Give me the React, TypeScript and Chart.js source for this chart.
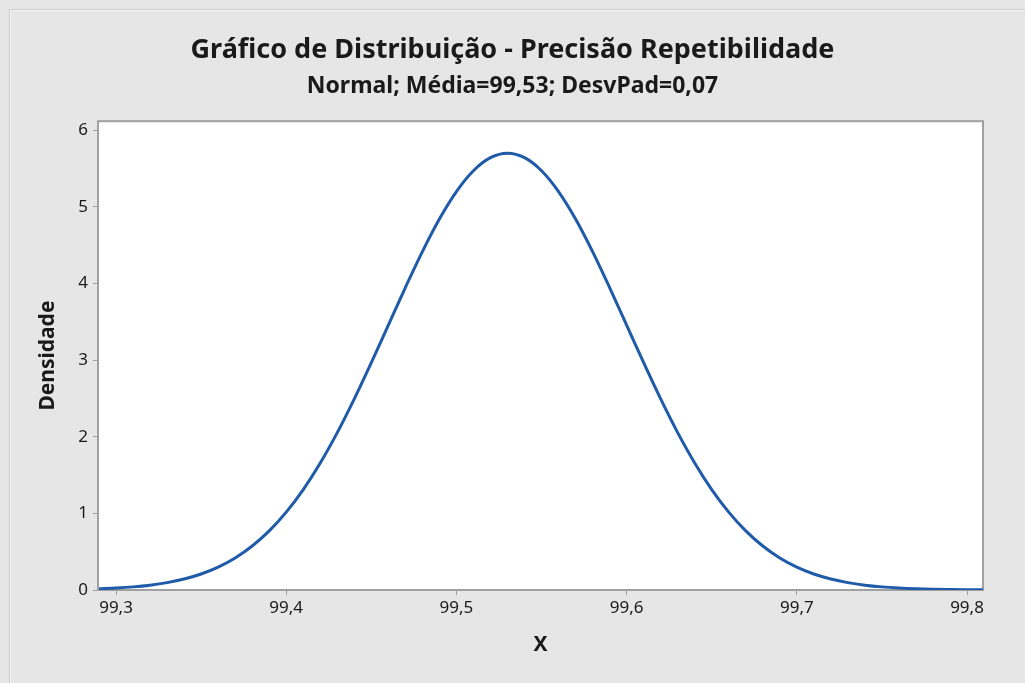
import React, { useEffect, useRef } from "react";
import { Chart, registerables } from "chart.js";

Chart.register(...registerables);

const titleText = "Gráfico de Distribuição - Precisão Repetibilidade";
const subtitleText = "Normal; Média=99,53; DesvPad=0,07";
const xAxisLabel = "X";
const yAxisLabel = "Densidade";

const xValues = [
  99.29, 99.3, 99.31, 99.32, 99.33, 99.34, 99.35, 99.36, 99.37, 99.38, 99.39,
  99.4, 99.41, 99.42, 99.43, 99.44, 99.45, 99.46, 99.47, 99.48, 99.49, 99.5,
  99.51, 99.52, 99.53, 99.54, 99.55, 99.56, 99.57, 99.58, 99.59, 99.6, 99.61,
  99.62, 99.63, 99.64, 99.65, 99.66, 99.67, 99.68, 99.69, 99.7, 99.71, 99.72,
  99.73, 99.74, 99.75, 99.76, 99.77, 99.78, 99.79, 99.8, 99.81,
];

const densityValues = [
  0.016, 0.0258, 0.0408, 0.0633, 0.0962, 0.1432, 0.2089, 0.2986, 0.4182,
  0.5737, 0.7713, 1.016, 1.311, 1.658, 2.054, 2.494, 2.966, 3.457, 3.947,
  4.416, 4.841, 5.199, 5.471, 5.641, 5.699, 5.641, 5.471, 5.199, 4.841, 4.416,
  3.947, 3.457, 2.966, 2.494, 2.054, 1.658, 1.311, 1.016, 0.7713, 0.5737,
  0.4182, 0.2986, 0.2089, 0.1432, 0.0962, 0.0633, 0.0408, 0.0258, 0.016,
  0.0097, 0.0058, 0.0033, 0.0019,
];

const xTicks = [99.3, 99.4, 99.5, 99.6, 99.7, 99.8];
const yTicks = [0, 1, 2, 3, 4, 5, 6];

const FONT = "'Noto Sans', 'Open Sans', sans-serif";
const TEXT = "#1a1a1a";
const FRAME = "#a0a0a0";

export default function App() {
  const ref = useRef<HTMLCanvasElement | null>(null);

  useEffect(() => {
    document.body.style.margin = "0";
    const canvas = ref.current;
    if (!canvas) return;

    const bgPlugin = {
      id: "bgPlugin",
      beforeDraw(chart: any) {
        const { ctx, width, height, chartArea } = chart;
        ctx.save();
        ctx.fillStyle = "#e6e6e6";
        ctx.fillRect(0, 0, width, height);
        ctx.strokeStyle = "#cdcdcd";
        ctx.lineWidth = 1;
        ctx.strokeRect(9.5, 9.5, width + 20, height + 20);
        ctx.strokeStyle = "#f4f4f4";
        ctx.strokeRect(10.5, 10.5, width + 20, height + 20);
        ctx.fillStyle = "#ffffff";
        ctx.fillRect(
          chartArea.left,
          chartArea.top,
          chartArea.right - chartArea.left,
          chartArea.bottom - chartArea.top
        );
        ctx.restore();
      },
      beforeDatasetsDraw(chart: any) {
        const { ctx, chartArea } = chart;
        ctx.save();
        ctx.strokeStyle = FRAME;
        ctx.lineWidth = 2;
        ctx.strokeRect(
          chartArea.left,
          chartArea.top,
          chartArea.right - chartArea.left,
          chartArea.bottom - chartArea.top
        );
        ctx.restore();
      },
    };

    const chart = new Chart(canvas, {
      type: "line",
      data: {
        datasets: [
          {
            data: xValues.map((x, i) => ({ x, y: densityValues[i] })),
            borderColor: "#1f5ba8",
            borderWidth: 3,
            pointRadius: 0,
            tension: 0.4,
            cubicInterpolationMode: "monotone",
            fill: false,
            yAxisID: "y",
          },
        ],
      },
      options: {
        animation: false,
        responsive: false,
        devicePixelRatio: 1,
        layout: { padding: { left: 0, right: 0, top: 0, bottom: 0 } },
        plugins: {
          legend: { display: false },
          tooltip: { enabled: false },
          title: {
            display: true,
            text: titleText,
            color: TEXT,
            font: { family: FONT, size: 27, weight: "bold", lineHeight: 1.2 },
            padding: { top: 34, bottom: 0 },
          },
          subtitle: {
            display: true,
            text: subtitleText,
            color: TEXT,
            font: { family: FONT, size: 23, weight: "bold", lineHeight: 1.2 },
            padding: { top: 6, bottom: 21.2 },
          },
        },
        scales: {
          x: {
            type: "linear",
            min: 99.2894,
            max: 99.8094,
            afterBuildTicks(scale: any) {
              scale.ticks = xTicks.map((v) => ({ value: v }));
            },
            afterFit(scale: any) {
              scale.height = 93;
            },
            ticks: {
              color: TEXT,
              font: { family: FONT, size: 17 },
              padding: 3,
              maxRotation: 0,
              autoSkip: false,
              callback: (v: any) => Number(v).toFixed(1).replace(".", ","),
            },
            grid: {
              display: true,
              drawOnChartArea: false,
              drawTicks: true,
              tickLength: 5,
              color: FRAME,
              lineWidth: 1,
            },
            border: { display: false },
            title: {
              display: true,
              text: xAxisLabel,
              color: TEXT,
              font: { family: FONT, size: 21, weight: "bold", lineHeight: 1.2 },
              padding: { top: 25, bottom: 25 },
            },
          },
          y: {
            type: "linear",
            position: "left",
            min: 0,
            max: 6.117,
            afterBuildTicks(scale: any) {
              scale.ticks = yTicks.map((v) => ({ value: v }));
            },
            afterFit(scale: any) {
              scale.width = 98;
            },
            ticks: {
              color: TEXT,
              font: { family: FONT, size: 17 },
              padding: 5,
              autoSkip: false,
              callback: (v: any) => String(v),
            },
            grid: {
              display: true,
              drawOnChartArea: false,
              drawTicks: true,
              tickLength: 5,
              color: FRAME,
              lineWidth: 1,
            },
            border: { display: false },
            title: {
              display: true,
              text: yAxisLabel,
              color: TEXT,
              font: { family: FONT, size: 21, weight: "bold", lineHeight: 1.2 },
              padding: { top: 35, bottom: 35 },
            },
          },
          yR: {
            type: "linear",
            position: "right",
            min: 0,
            max: 1,
            afterFit(scale: any) {
              scale.width = 42;
            },
            ticks: { display: false },
            grid: { display: false, drawOnChartArea: false, drawTicks: false },
            border: { display: false },
            title: { display: false },
          },
        },
      },
      plugins: [bgPlugin],
    } as any);

    return () => chart.destroy();
  }, []);

  return (
    <div style={{ width: 1025, height: 683 }}>
      <canvas ref={ref} width={1025} height={683} style={{ display: "block" }} />
    </div>
  );
}
